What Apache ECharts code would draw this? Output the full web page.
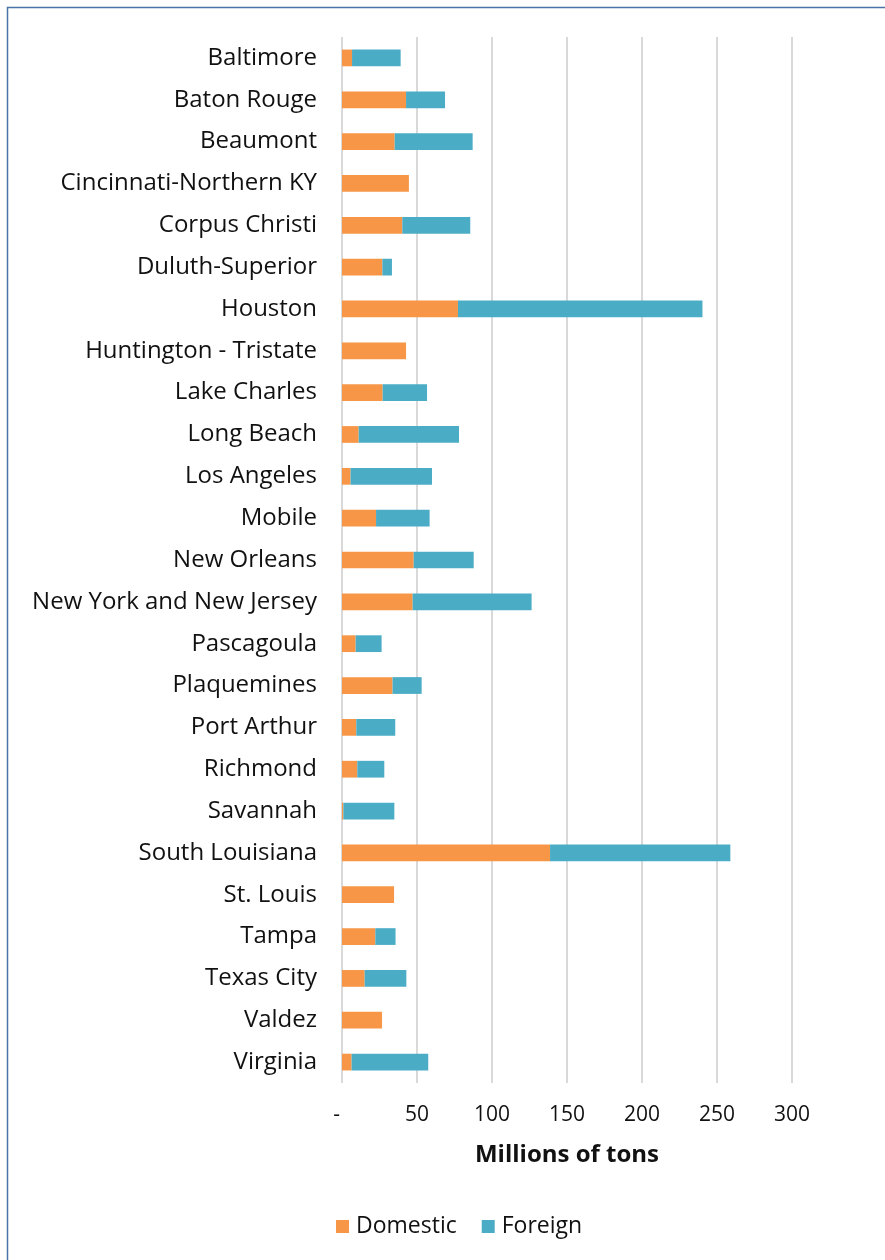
<!DOCTYPE html>
<html lang="en">
<head>
    <meta charset="UTF-8">
    <title>Port tonnage</title>
    <script src="https://cdn.jsdelivr.net/npm/echarts@6/dist/echarts.min.js"></script>
    <style>
        body { margin: 0; background: #fff; }
        #chart { width: 885px; height: 1260px; }
    </style>
</head>
<body>
    <div id="chart"></div>
</body>
<script type="text/javascript">
    // ports, top to bottom as drawn
    var ports = ['Baltimore', 'Baton Rouge', 'Beaumont', 'Cincinnati-Northern KY', 'Corpus Christi',
        'Duluth-Superior', 'Houston', 'Huntington - Tristate', 'Lake Charles', 'Long Beach',
        'Los Angeles', 'Mobile', 'New Orleans', 'New York and New Jersey', 'Pascagoula',
        'Plaquemines', 'Port Arthur', 'Richmond', 'Savannah', 'South Louisiana',
        'St. Louis', 'Tampa', 'Texas City', 'Valdez', 'Virginia'];

    // millions of tons
    var domestic = [6.7, 42.7, 35.1, 44.6, 40.2,
        26.9, 77.3, 42.7, 27.1, 11.1,
        5.7, 22.7, 47.8, 47.1, 9.1,
        33.7, 9.5, 10.2, 0.9, 138.7,
        34.7, 22.2, 15.1, 26.7, 6.4];
    var foreign = [32.4, 26.0, 52.0, 0, 45.3,
        6.4, 163.0, 0, 29.6, 66.9,
        54.3, 35.7, 40.0, 79.3, 17.3,
        19.4, 26.0, 18.0, 34.0, 120.2,
        0, 13.5, 27.8, 0, 51.1];

    var xTicks = { min: 0, max: 300, interval: 50 };

    var chart = echarts.init(document.getElementById('chart'));

    var font = '"Open Sans", Lato, sans-serif';

    var option = {
        animation: false,
        backgroundColor: '#fff',
        textStyle: { fontFamily: font },
        graphic: [{
            type: 'rect',
            shape: { x: 7.5, y: 7.5, width: 900, height: 1280 },
            style: { fill: 'none', stroke: '#4a74a8', lineWidth: 1.5 },
            silent: true
        }],
        grid: { left: 342, right: 93, top: 37, bottom: 177 },
        legend: {
            data: ['Domestic', 'Foreign'],
            bottom: 17,
            left: 331,
            itemWidth: 13,
            itemHeight: 13,
            itemGap: 25,
            icon: 'rect',
            textStyle: { fontSize: 23, color: '#111', fontFamily: font, padding: [0, 0, 0, 2] }
        },
        xAxis: {
            type: 'value',
            min: xTicks.min,
            max: xTicks.max,
            interval: xTicks.interval,
            name: 'Millions of tons',
            nameLocation: 'middle',
            nameGap: 60,
            nameTextStyle: { fontSize: 24, fontWeight: 'bold', color: '#111', fontFamily: font },
            axisLine: { show: false },
            axisTick: { show: false },
            axisLabel: {
                fontSize: 21,
                color: '#111',
                margin: 22,
                formatter: function (v) { return v === 0 ? '-  ' : v; }
            },
            splitLine: { lineStyle: { color: '#d9d9d9', width: 2 } }
        },
        yAxis: {
            type: 'category',
            data: ports,
            inverse: true,
            axisLine: { show: false },
            axisTick: { show: false },
            axisLabel: { fontSize: 24, color: '#111', margin: 25, padding: [4, 0, 0, 0] }
        },
        series: [
            {
                name: 'Domestic',
                type: 'bar',
                stack: 'total',
                barWidth: '40%',
                itemStyle: { color: '#f79646' },
                data: domestic
            },
            {
                name: 'Foreign',
                type: 'bar',
                stack: 'total',
                barWidth: '40%',
                itemStyle: { color: '#4bacc6' },
                data: foreign
            }
        ]
    };

    chart.setOption(option);
</script>
</html>
